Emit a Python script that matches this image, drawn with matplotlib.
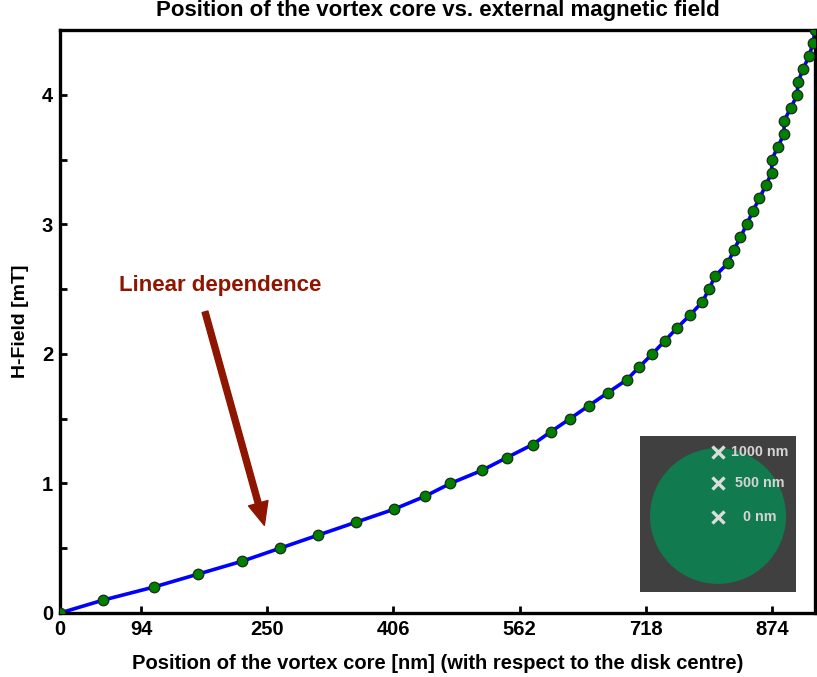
import matplotlib
matplotlib.use("Agg")
import matplotlib.pyplot as plt
from matplotlib.patches import Circle, Rectangle
from matplotlib.ticker import MultipleLocator, FuncFormatter

plt.rcParams['font.family'] = ['Liberation Sans', 'DejaVu Sans']
plt.rcParams['font.weight'] = 'bold'

# Data (position in nm, field in mT)
position = [0, 53.6, 115.9, 170.7, 225.5, 272.2, 318.8, 365.8, 412.8, 451.2,
            482.9, 521.7, 553.0, 584.6, 607.4, 631.0, 654.1, 677.6, 701.1, 716.7,
            732.8, 748.1, 763.3, 779.4, 794.5, 802.9, 810.3, 826.1, 833.5, 841.6,
            849.6, 857.0, 865.1, 873.1, 880.5, 880.5, 888.3, 895.7, 895.7, 904.4,
            911.8, 913.1, 919.3, 926.7, 931.6, 934.0]
field = [0.0, 0.1, 0.2, 0.3, 0.4, 0.5, 0.6, 0.7, 0.8, 0.9,
         1.0, 1.1, 1.2, 1.3, 1.4, 1.5, 1.6, 1.7, 1.8, 1.9,
         2.0, 2.1, 2.2, 2.3, 2.4, 2.5, 2.6, 2.7, 2.8, 2.9,
         3.0, 3.1, 3.2, 3.3, 3.4, 3.5, 3.6, 3.7, 3.8, 3.9,
         4.0, 4.1, 4.2, 4.3, 4.4, 4.5]

xtick_pos = [0, 100.5, 256.5, 412.5, 568.5, 724.5, 880.5]
xtick_labels = ['0', '94', '250', '406', '562', '718', '874']

inset_labels = ['1000 nm', '500 nm', '0 nm']
inset_marker_y = [0.899, 0.696, 0.478]

W, H = 817, 677
fig = plt.figure(figsize=(W / 100, H / 100), dpi=100)
ax = fig.add_axes([60 / W, (H - 613) / H, (815 - 60) / W, (613 - 30) / H])

ax.plot(position, field, color='#0000ff', lw=2.6, zorder=2)
ax.plot(position, field, 'o', ms=7.6, mfc='#008000', mec='#1a2a1a', mew=0.9, zorder=3)

ax.set_xlim(0, 934)
ax.set_ylim(0, 4.5)
ax.set_xticks(xtick_pos)
ax.set_xticklabels(xtick_labels)
ax.yaxis.set_major_locator(MultipleLocator(1))
ax.yaxis.set_minor_locator(MultipleLocator(0.5))
ax.yaxis.set_major_formatter(FuncFormatter(lambda v, p: '%d' % v))

for s in ax.spines.values():
    s.set_linewidth(2.4)
ax.tick_params(which='both', direction='in', length=5, width=2, labelsize=14.5, pad=5)
for lab in ax.get_xticklabels() + ax.get_yticklabels():
    lab.set_fontweight('bold')

fig.text(437.5 / W, 1 - 10.5 / H, 'Position of the vortex core vs. external magnetic field',
         fontsize=16, fontweight='bold', ha='center', va='center')
ax.set_xlabel('Position of the vortex core [nm] (with respect to the disk centre)',
              fontsize=14.5, fontweight='bold', labelpad=10.5)
ax.set_ylabel('H-Field [mT]', fontsize=14, fontweight='bold', labelpad=9)

red = '#8e1600'
ax.text(198, 2.53, 'Linear dependence', color=red, fontsize=16, fontweight='bold',
        ha='center', va='center')
ax.annotate('', xy=(252.8, 0.677), xytext=(179.4, 2.325),
            arrowprops=dict(facecolor=red, edgecolor=red, width=4.3,
                            headwidth=14.5, headlength=16.5, shrink=0))

# Inset
iax = fig.add_axes([640 / W, (H - 591.7) / H, 156 / W, 155.7 / H])
iax.set_xlim(0, 1)
iax.set_ylim(0, 1)
iax.axis('off')
iax.add_patch(Rectangle((0, 0), 1, 1, facecolor='#404040', edgecolor='none',
                        transform=iax.transAxes))
iax.add_patch(Circle((0.5, 0.486), 0.436, facecolor='#117a4e', edgecolor='none'))
for lab, yy in zip(inset_labels, inset_marker_y):
    iax.plot(0.5, yy, 'x', ms=9, mew=2.4, color='#dcdcdc')
    iax.text(0.77, yy, lab, color='#d4d4d4', fontsize=10.3, fontweight='bold',
             ha='center', va='center')

fig.savefig('out.png', dpi=100)
